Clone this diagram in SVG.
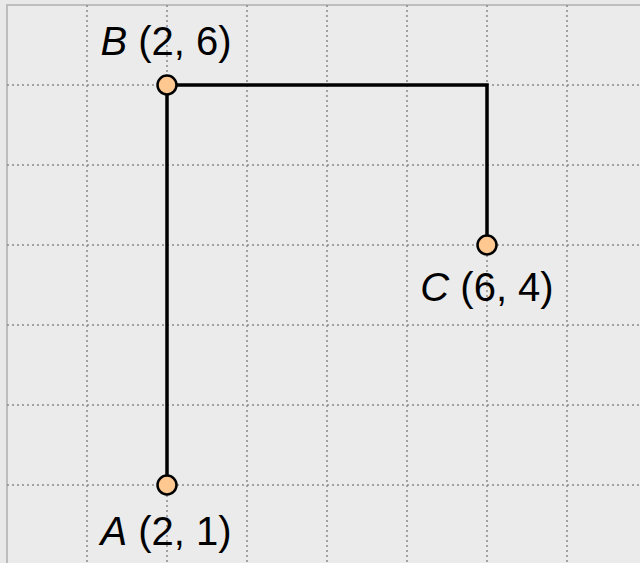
<svg xmlns="http://www.w3.org/2000/svg" width="640" height="563" viewBox="0 0 640 563">
<style>
.grid{stroke:#8a8a8a;stroke-width:1.5;stroke-dasharray:2,3;fill:none}
.edge{stroke:#000;stroke-width:3.5;fill:none}
.pt{fill:#ffc891;stroke:#000;stroke-width:2.5}
.lbl{font-family:"Liberation Sans",Arial,sans-serif;font-size:40px;fill:#000;text-anchor:middle}
</style>
<rect x="0" y="0" width="640" height="563" fill="#e9e9e9"/>
<rect x="7" y="5" width="700" height="600" fill="#ebebeb" stroke="#bdbdbd" stroke-width="2"/>
<g id="grid">
<path class="grid" d="M87 5V563M167 5V563M247 5V563M327 5V563M407 5V563M487 5V563M567 5V563"/>
<path class="grid" d="M7 85H640M7 165H640M7 245H640M7 325H640M7 405H640M7 485H640"/>
</g>
<g id="connectors">
<path class="edge" d="M167 485V85"/>
<path class="edge" d="M167 85H487V245"/>
</g>
<g id="B">
<circle class="pt" cx="167" cy="85" r="9.5"/>
<text class="lbl" x="166" y="55"><tspan font-style="italic">B</tspan> (2, 6)</text>
</g>
<g id="C">
<circle class="pt" cx="487" cy="245" r="9.5"/>
<text class="lbl" x="487" y="301"><tspan font-style="italic">C</tspan> (6, 4)</text>
</g>
<g id="A">
<circle class="pt" cx="167" cy="485" r="9.5"/>
<text class="lbl" x="166" y="545"><tspan font-style="italic">A</tspan> (2, 1)</text>
</g>
</svg>
